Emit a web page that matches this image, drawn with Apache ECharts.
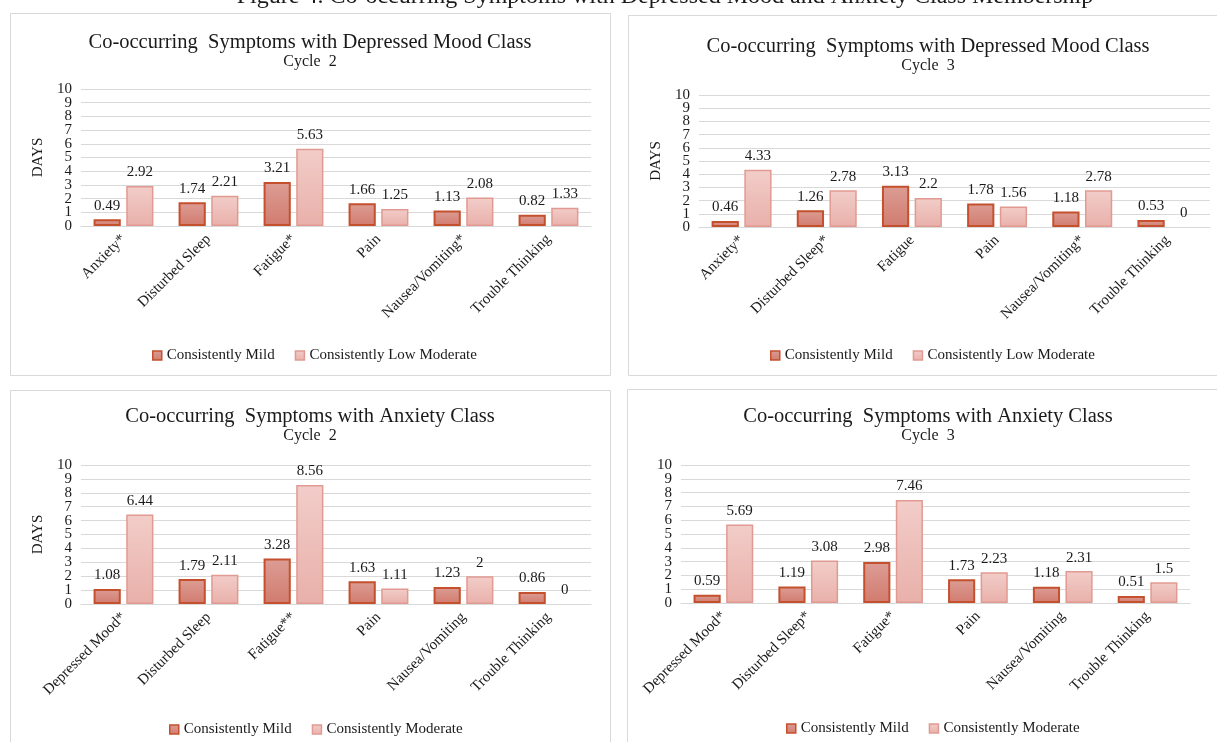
<!DOCTYPE html>
<html>
<head>
<meta charset="utf-8">
<script src="https://cdn.jsdelivr.net/npm/echarts@6/dist/echarts.min.js"></script>
<style>
  html, body { margin: 0; padding: 0; background: #fff; }
  #chart { width: 1217px; height: 742px; }
</style>
</head>
<body>
<div id="chart"></div>
<script>
// Symptom categories per panel
const moodCats2 = ['Anxiety*', 'Disturbed Sleep', 'Fatigue*', 'Pain', 'Nausea/Vomiting*', 'Trouble Thinking'];
const moodCats3 = ['Anxiety*', 'Disturbed Sleep*', 'Fatigue', 'Pain', 'Nausea/Vomiting*', 'Trouble Thinking'];
const anxCats2 = ['Depressed Mood*', 'Disturbed Sleep', 'Fatigue**', 'Pain', 'Nausea/Vomiting', 'Trouble Thinking'];
const anxCats3 = ['Depressed Mood*', 'Disturbed Sleep*', 'Fatigue*', 'Pain', 'Nausea/Vomiting', 'Trouble Thinking'];

// Mean days per class
const moodC2Mild = [0.49, 1.74, 3.21, 1.66, 1.13, 0.82];
const moodC2LowMod = [2.92, 2.21, 5.63, 1.25, 2.08, 1.33];
const moodC3Mild = [0.46, 1.26, 3.13, 1.78, 1.18, 0.53];
const moodC3LowMod = [4.33, 2.78, 2.2, 1.56, 2.78, 0];
const anxC2Mild = [1.08, 1.79, 3.28, 1.63, 1.23, 0.86];
const anxC2Mod = [6.44, 2.11, 8.56, 1.11, 2, 0];
const anxC3Mild = [0.59, 1.19, 2.98, 1.73, 1.18, 0.51];
const anxC3Mod = [5.69, 3.08, 7.46, 2.23, 2.31, 1.5];

// Class names and headings
const mildName = 'Consistently Mild';
const lowModName = 'Consistently Low Moderate';
const modName = 'Consistently Moderate';
const moodTitle = 'Co-occurring  Symptoms with Depressed Mood Class';
const anxTitle = 'Co-occurring  Symptoms with Anxiety Class';
const figureTitle = 'Figure 4. Co-occurring Symptoms with Depressed Mood and Anxiety Class Membership';

const FONT = '"Liberation Serif", "Times New Roman", serif';
const TXT = '#1a1a1a';

const mildStyle = {
  color: new echarts.graphic.LinearGradient(0, 0, 0, 1, [
    { offset: 0, color: '#dc9d95' },
    { offset: 1, color: '#d27b6e' }
  ]),
  borderColor: '#c4502e',
  borderWidth: 2
};
const modStyle = {
  color: new echarts.graphic.LinearGradient(0, 0, 0, 1, [
    { offset: 0, color: '#f2cdc9' },
    { offset: 1, color: '#e9b0aa' }
  ]),
  borderColor: '#e19a91',
  borderWidth: 1.5
};

const panels = [
  { cats: moodCats2, a: moodC2Mild, b: moodC2LowMod, bName: lowModName, title: moodTitle, sub: 'Cycle  2',
    grid: { left: 81, top: 89, width: 510, height: 137 }, tx: 305, ty: 27, leg: { left: 147, top: 343 }, days: true },
  { cats: moodCats3, a: moodC3Mild, b: moodC3LowMod, bName: lowModName, title: moodTitle, sub: 'Cycle  3',
    grid: { left: 699, top: 95, width: 511, height: 132 }, tx: 923, ty: 31, leg: { left: 765, top: 343 }, days: true },
  { cats: anxCats2, a: anxC2Mild, b: anxC2Mod, bName: modName, title: anxTitle, sub: 'Cycle  2',
    grid: { left: 81, top: 465, width: 510, height: 139 }, tx: 305, ty: 401, leg: { left: 164, top: 717 }, days: true },
  { cats: anxCats3, a: anxC3Mild, b: anxC3Mod, bName: modName, title: anxTitle, sub: 'Cycle  3',
    grid: { left: 681, top: 465, width: 509, height: 138 }, tx: 923, ty: 401, leg: { left: 781, top: 716 }, days: false }
];

const labelStyle = { show: true, position: 'top', distance: 6, color: TXT, fontFamily: FONT, fontSize: 15 };

// A zero value is drawn without an outline so no sliver shows on the axis
const toData = arr => arr.map(v => (v === 0 ? { value: v, itemStyle: { borderWidth: 0 } } : v));

// The 0-10 day scale is labelled by two stacked left axes (even and odd
// ticks) so every tightly spaced tick label stays visible.
const dayAxes = panels.flatMap((p, i) => {
  const base = {
    type: 'value', gridIndex: i, position: 'left', offset: 0, min: 0, max: 10, interval: 1,
    axisLine: { show: false }, axisTick: { show: false }
  };
  const labelBase = { margin: 9, color: TXT, fontFamily: FONT, fontSize: 15 };
  return [
    Object.assign({}, base, {
      name: p.days ? 'DAYS' : '', nameLocation: 'middle', nameGap: 35, nameRotate: 90,
      nameTextStyle: { fontFamily: FONT, fontSize: 15, color: TXT },
      axisLabel: Object.assign({}, labelBase, {
        showMinLabel: true, showMaxLabel: true,
        formatter: v => (v % 2 === 0 ? String(v) : '')
      }),
      splitLine: { lineStyle: { color: '#d9d9d9', width: 1 } }
    }),
    Object.assign({}, base, {
      axisLabel: Object.assign({}, labelBase, {
        showMinLabel: false, showMaxLabel: false,
        formatter: v => (v % 2 === 1 ? String(v) : '')
      }),
      splitLine: { show: false }
    })
  ];
});

const option = {
  animation: false,
  backgroundColor: '#fff',
  textStyle: { fontFamily: FONT },
  title: panels.map(p => ({
    text: p.title, subtext: p.sub, left: p.tx, top: p.ty, textAlign: 'center', itemGap: 1,
    textStyle: { fontFamily: FONT, fontSize: 20.5, fontWeight: 'normal', color: TXT },
    subtextStyle: { fontFamily: FONT, fontSize: 16, color: TXT }
  })),
  legend: panels.map(p => ({
    data: [mildName, p.bName], left: p.leg.left, top: p.leg.top, icon: 'rect',
    itemWidth: 9, itemHeight: 9, itemGap: 20, itemStyle: { borderWidth: 1.5 },
    textStyle: { fontFamily: FONT, fontSize: 15, color: TXT }
  })),
  grid: panels.map(p => Object.assign({ containLabel: false }, p.grid)),
  xAxis: panels.map((p, i) => ({
    type: 'category', gridIndex: i, data: p.cats,
    axisLine: { lineStyle: { color: '#d9d9d9' } }, axisTick: { show: false },
    axisLabel: { rotate: 45, interval: 0, margin: 11, color: TXT, fontFamily: FONT, fontSize: 15 }
  })),
  yAxis: dayAxes,
  series: panels.flatMap((p, i) => [
    { type: 'bar', name: mildName, xAxisIndex: i, yAxisIndex: 2 * i, data: toData(p.a),
      barWidth: '32%', barGap: '20%', itemStyle: mildStyle, label: labelStyle },
    { type: 'bar', name: p.bName, xAxisIndex: i, yAxisIndex: 2 * i, data: toData(p.b),
      barWidth: '32%', barGap: '20%', itemStyle: modStyle, label: labelStyle }
  ]),
  graphic: [
    { type: 'rect', shape: { x: 10.5, y: 13.5, width: 600, height: 362 }, style: { fill: 'none', stroke: '#d9d9d9', lineWidth: 1 }, silent: true, z: -1 },
    { type: 'rect', shape: { x: 628.5, y: 15.5, width: 600, height: 360 }, style: { fill: 'none', stroke: '#d9d9d9', lineWidth: 1 }, silent: true, z: -1 },
    { type: 'rect', shape: { x: 10.5, y: 390.5, width: 600, height: 370 }, style: { fill: 'none', stroke: '#d9d9d9', lineWidth: 1 }, silent: true, z: -1 },
    { type: 'rect', shape: { x: 627.5, y: 389.5, width: 600, height: 370 }, style: { fill: 'none', stroke: '#d9d9d9', lineWidth: 1 }, silent: true, z: -1 },
    { type: 'text', x: 665, y: -15, style: { text: figureTitle, font: '24px ' + FONT, fill: TXT, textAlign: 'center' }, silent: true }
  ]
};

const chart = echarts.init(document.getElementById('chart'), null, { renderer: 'canvas' });
chart.setOption(option);
</script>
</body>
</html>
